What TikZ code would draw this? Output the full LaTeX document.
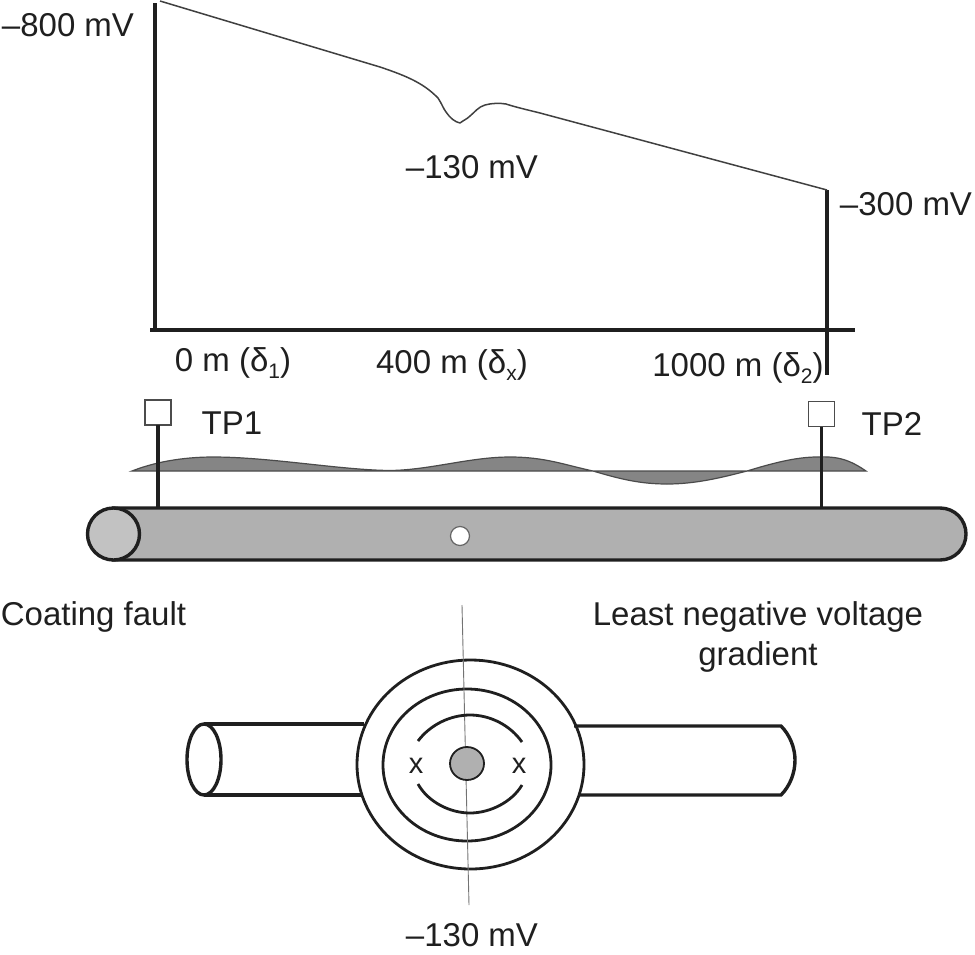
\documentclass[tikz,border=0pt]{standalone}
\usepackage{fontspec}
\setmainfont{Liberation Sans}
\usetikzlibrary{calc}
\newcommand{\lowsub}[1]{\raisebox{-0.22em}{\fontsize{21}{21}\selectfont #1}}
\definecolor{ink}{gray}{0.12}
\definecolor{pipegray}{gray}{0.69}
\definecolor{capgray}{gray}{0.76}
\definecolor{bandgray}{gray}{0.52}
\tikzset{
  lab/.style={inner sep=0pt,outer sep=0pt,anchor=base,font=\fontsize{33}{33}\selectfont,text=ink},
  axis/.style={draw=ink,line width=3.4pt},
  stem/.style={draw=ink,line width=3.6pt},
  tpbox/.style={draw=black!70,line width=1.4pt,fill=white,minimum width=26pt,minimum height=25pt,inner sep=0pt,outer sep=0pt},
  outline/.style={draw=ink,line width=3.4pt},
  thinring/.style={draw=ink,line width=2.8pt},
}
\begin{document}
\begin{tikzpicture}[x=1pt,y=-1pt]
\useasboundingbox (0,0) rectangle (975,954);
% --- graph
\coordinate (ytop) at (155,3);
\coordinate (ybot) at (155,331);
\coordinate (xl) at (150,330);
\coordinate (xr) at (855,330);
\coordinate (rtop) at (827,190);
\coordinate (rbot) at (827,375);
\draw[axis] (ytop) -- (ybot);
\draw[axis] (xl) -- (xr);
\draw[axis] (rtop) -- (rbot);
\draw[draw=ink!85,line width=1.5pt,line join=round]
  (160,1) -- (380,67)
  .. controls (395,72) and (405,76) .. (413,80)
  .. controls (425,86) and (432,92) .. (438,98)
  .. controls (442,104) and (443,108) .. (446,112)
  .. controls (450,118) and (455,122) .. (460,123)
  .. controls (464,120) and (467,119) .. (470,116)
  .. controls (475,112) and (478,107) .. (485,105)
  .. controls (492,103) and (500,103) .. (506,104)
  .. controls (515,107) and (528,110) .. (540,113)
  -- (rtop);
\node[lab] (v800) at (68,36) {–800 mV};
\node[lab] (v130a) at (472,178) {–130 mV};
\node[lab] (v300) at (906,215) {–300 mV};
\node[lab] (d1) at (233,371) {0 m (δ\lowsub{1})};
\node[lab] (dx) at (452,373) {400 m (δ\lowsub{x})};
\node[lab] (d2) at (738,376) {1000 m (δ\lowsub{2})};
% --- pipe with coating fault
\draw[outline,fill=pipegray] (113.5,508) -- (940,508)
  .. controls (955,508) and (966,520) .. (966,534)
  .. controls (966,548) and (955,560) .. (940,560)
  -- (113.5,560) -- cycle;
\draw[outline,fill=capgray] (113.5,534) ellipse[x radius=26,y radius=26];
\draw[draw=black!60,line width=1.2pt,fill=white] (460,536) circle[radius=9.5];
% --- soil surface band
\draw[draw=ink!80,line width=1.2pt,fill=bandgray]
  (132,471)
  .. controls (160,460) and (190,457) .. (213,457)
  .. controls (270,457) and (340,470) .. (390,470.5)
  .. controls (430,470) and (470,457) .. (510,457)
  .. controls (545,457) and (565,465) .. (593,471)
  .. controls (620,479) and (640,484) .. (667,484)
  .. controls (695,484) and (720,478) .. (747,471)
  .. controls (770,464) and (795,457) .. (817,457)
  .. controls (838,456) and (850,460) .. (866,471)
  -- cycle;
% --- test posts
\node[tpbox] (tp1) at (158,412.5) {};
\node[tpbox] (tp2) at (821.5,414) {};
\coordinate (p1) at (158,507);
\coordinate (p2) at (821.5,507);
\draw[stem] (tp1.south) -- (p1);
\draw[stem] (tp2.south) -- (p2);
\node[lab] (tp1lab) at (232,434) {TP1};
\node[lab] (tp2lab) at (892,435) {TP2};
\node[lab] (coat) at (93.5,625) {Coating fault};
\node[lab] (least) at (758,625) {Least negative voltage};
\node[lab] (grad) at (758,665) {gradient};
% --- plan view
\draw[outline] (203.5,724) -- (364,724);
\draw[outline] (203.5,795) -- (361,795);
\draw[outline] (204,759.5) ellipse[x radius=17,y radius=35.5];
\draw[outline] (574,726) -- (781,726)
  .. controls (790,735) and (795,748) .. (795,760)
  .. controls (795,773) and (790,786) .. (781,795) -- (579,795);
\draw[thinring] (470.5,764.5) ellipse[x radius=113.5,y radius=104.5];
\draw[thinring] (467,765) ellipse[x radius=84,y radius=76];
\draw[draw=black!55,line width=0.9pt] (462,605) -- (469,905);
\draw[thinring] (418,741) .. controls (430,725) and (450,715) .. (470,715)
  .. controls (490,715) and (510,725) .. (522,742);
\draw[thinring] (418,784) .. controls (428,802) and (450,813) .. (470,813)
  .. controls (490,813) and (512,802) .. (522,785);
\draw[draw=ink,line width=1.8pt,fill=pipegray] (467,763.5) ellipse[x radius=17,y radius=16.5];
\node[lab,font=\fontsize{29}{29}\selectfont] (x1) at (416,773) {x};
\node[lab,font=\fontsize{29}{29}\selectfont] (x2) at (519,773) {x};
\node[lab] (v130b) at (472,946) {–130 mV};
\end{tikzpicture}
\end{document}
